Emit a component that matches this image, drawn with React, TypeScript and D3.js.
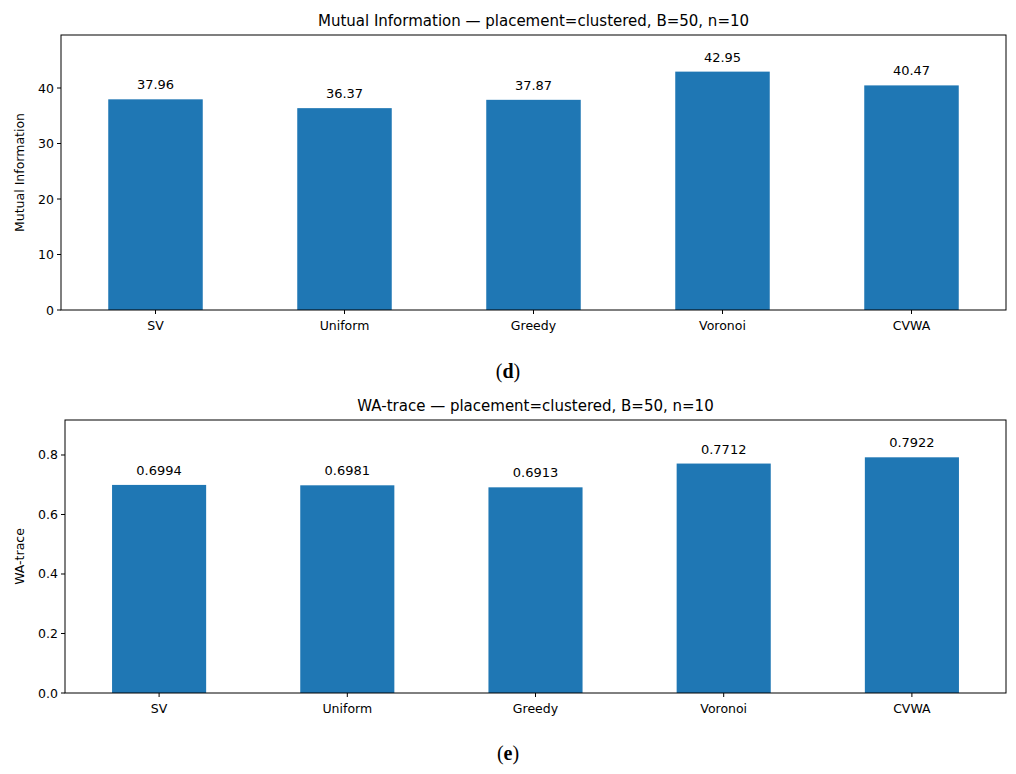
import React from "react";
import * as d3 from "d3";

const categories = ["SV", "Uniform", "Greedy", "Voronoi", "CVWA"];
const miValues = [37.96, 36.37, 37.87, 42.95, 40.47];
const miLabels = ["37.96", "36.37", "37.87", "42.95", "40.47"];
const miTicks = [0, 10, 20, 30, 40];
const waValues = [0.6994, 0.6981, 0.6913, 0.7712, 0.7922];
const waLabels = ["0.6994", "0.6981", "0.6913", "0.7712", "0.7922"];
const waTicks = [0, 0.2, 0.4, 0.6, 0.8];

const font = "DejaVu Sans, sans-serif";

function Panel({ x0, x1, y0, y1, values, labels, ticks, ymax, title, ylabel, fmt }: any) {
  const x = d3.scaleBand<string>().domain(categories).range([x0, x1]).paddingInner(0.5).paddingOuter(0.25);
  const y = d3.scaleLinear().domain([0, ymax]).range([y1, y0]);
  return (
    <g fontFamily={font}>
      {values.map((v: number, i: number) => (
        <g key={i}>
          <rect x={x(categories[i])} y={y(v)} width={x.bandwidth()} height={y1 - y(v)} fill="#1f77b4" />
          <text x={x(categories[i])! + x.bandwidth() / 2} y={y(v) - 10} fontSize={13} textAnchor="middle">{labels[i]}</text>
        </g>
      ))}
      <rect x={x0} y={y0} width={x1 - x0} height={y1 - y0} fill="none" stroke="#000" strokeWidth={1} />
      {ticks.map((t: number) => (
        <g key={t}>
          <line x1={x0 - 4} x2={x0} y1={y(t)} y2={y(t)} stroke="#000" />
          <text x={x0 - 7} y={y(t) + 4.5} fontSize={12.5} textAnchor="end">{fmt(t)}</text>
        </g>
      ))}
      {categories.map((c) => (
        <g key={c}>
          <line x1={x(c)! + x.bandwidth() / 2} x2={x(c)! + x.bandwidth() / 2} y1={y1} y2={y1 + 4} stroke="#000" />
          <text x={x(c)! + x.bandwidth() / 2} y={y1 + 20} fontSize={12.5} textAnchor="middle">{c}</text>
        </g>
      ))}
      <text x={(x0 + x1) / 2} y={y0 - 9} fontSize={15} textAnchor="middle">{title}</text>
      <text transform={`translate(24,${(y0 + y1) / 2}) rotate(-90)`} fontSize={12.5} textAnchor="middle">{ylabel}</text>
    </g>
  );
}

export default function App() {
  return (
    <svg width={1016} height={774} style={{ position: "absolute", left: 0, top: 0, background: "#fff" }}>
      <rect width={1016} height={774} fill="#fff" />
      <Panel x0={61} x1={1006} y0={35} y1={310} values={miValues} labels={miLabels} ticks={miTicks} ymax={49.55}
        title="Mutual Information — placement=clustered, B=50, n=10" ylabel="Mutual Information" fmt={(t: number) => String(t)} />
      <text x={508} y={378} fontSize={20} textAnchor="middle" fontFamily="Liberation Serif, serif">(<tspan fontWeight="bold">d</tspan>)</text>
      <Panel x0={65} x1={1006} y0={420} y1={693} values={waValues} labels={waLabels} ticks={waTicks} ymax={0.9176}
        title="WA-trace — placement=clustered, B=50, n=10" ylabel="WA-trace" fmt={(t: number) => t.toFixed(1)} />
      <text x={508} y={760} fontSize={20} textAnchor="middle" fontFamily="Liberation Serif, serif">(<tspan fontWeight="bold">e</tspan>)</text>
    </svg>
  );
}
